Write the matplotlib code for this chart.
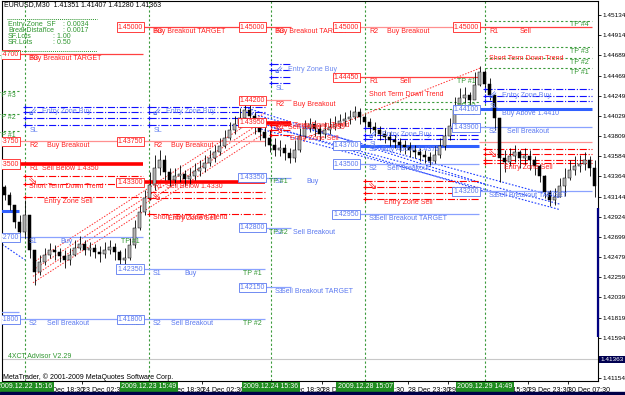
import matplotlib.pyplot as plt
import matplotlib.transforms as mtransforms
import numpy as np

# EURUSD hourly candles (each one spans two M30 bars on the chart)
first_open = 1.4325
bar_close = [1.4316, 1.4305, 1.4287, 1.4276, 1.4294, 1.4256, 1.4232, 1.4243, 1.4250, 1.4256,
             1.4254, 1.4249, 1.4245, 1.4250, 1.4258, 1.4262, 1.4256, 1.4258, 1.4254, 1.4251,
             1.4256, 1.4259, 1.4254, 1.4245, 1.4247, 1.4261, 1.4280, 1.4297, 1.4313, 1.4327,
             1.4346, 1.4354, 1.4341, 1.4332, 1.4337, 1.4339, 1.4334, 1.4337, 1.4342, 1.4346,
             1.4351, 1.4357, 1.4363, 1.4370, 1.4378, 1.4387, 1.4394, 1.4400, 1.4409, 1.4403,
             1.4392, 1.4385, 1.4378, 1.4371, 1.4365, 1.4368, 1.4362, 1.4357, 1.4365, 1.4381,
             1.4389, 1.4394, 1.4388, 1.4383, 1.4387, 1.4391, 1.4394, 1.4397, 1.4399, 1.4401,
             1.4407, 1.4401, 1.4396, 1.4391, 1.4387, 1.4383, 1.4380, 1.4376, 1.4374, 1.4371,
             1.4369, 1.4365, 1.4363, 1.4360, 1.4358, 1.4353, 1.4360, 1.4370, 1.4381, 1.4392,
             1.4409, 1.4422, 1.4426, 1.4420, 1.4436, 1.4451, 1.4438, 1.4426, 1.4400, 1.4357,
             1.4352, 1.4359, 1.4363, 1.4357, 1.4359, 1.4354, 1.4348, 1.4337, 1.4319, 1.4311,
             1.4314, 1.4326, 1.4335, 1.4343, 1.4348, 1.4350, 1.4354, 1.4346, 1.4326]
bar_high = [1.4327, 1.4319, 1.4305, 1.4294, 1.4311, 1.4294, 1.4256, 1.4250, 1.4258, 1.4264,
            1.4261, 1.4258, 1.4256, 1.4258, 1.4267, 1.4271, 1.4267, 1.4265, 1.4262, 1.4260,
            1.4265, 1.4267, 1.4264, 1.4256, 1.4258, 1.4269, 1.4289, 1.4305, 1.4322, 1.4341,
            1.4360, 1.4365, 1.4360, 1.4346, 1.4346, 1.4349, 1.4343, 1.4346, 1.4351, 1.4354,
            1.4360, 1.4365, 1.4371, 1.4378, 1.4387, 1.4396, 1.4403, 1.4411, 1.4418, 1.4416,
            1.4407, 1.4398, 1.4393, 1.4387, 1.4378, 1.4376, 1.4372, 1.4368, 1.4376, 1.4389,
            1.4398, 1.4400, 1.4398, 1.4394, 1.4396, 1.4400, 1.4403, 1.4405, 1.4407, 1.4409,
            1.4414, 1.4411, 1.4405, 1.4400, 1.4396, 1.4392, 1.4387, 1.4385, 1.4382, 1.4378,
            1.4376, 1.4374, 1.4371, 1.4368, 1.4365, 1.4363, 1.4370, 1.4378, 1.4389, 1.4400,
            1.4423, 1.4433, 1.4434, 1.4429, 1.4451, 1.4457, 1.4453, 1.4444, 1.4422, 1.4398,
            1.4365, 1.4368, 1.4371, 1.4365, 1.4368, 1.4365, 1.4359, 1.4350, 1.4338, 1.4322,
            1.4324, 1.4335, 1.4346, 1.4354, 1.4359, 1.4360, 1.4363, 1.4359, 1.4354]
bar_low = [1.4311, 1.4300, 1.4280, 1.4267, 1.4269, 1.4247, 1.4218, 1.4228, 1.4239, 1.4247,
           1.4245, 1.4243, 1.4236, 1.4239, 1.4249, 1.4256, 1.4250, 1.4249, 1.4247, 1.4243,
           1.4247, 1.4251, 1.4245, 1.4236, 1.4238, 1.4245, 1.4258, 1.4278, 1.4294, 1.4311,
           1.4322, 1.4338, 1.4332, 1.4326, 1.4327, 1.4330, 1.4326, 1.4328, 1.4332, 1.4337,
           1.4341, 1.4348, 1.4352, 1.4360, 1.4368, 1.4376, 1.4383, 1.4389, 1.4396, 1.4394,
           1.4383, 1.4376, 1.4370, 1.4363, 1.4359, 1.4359, 1.4354, 1.4351, 1.4352, 1.4363,
           1.4378, 1.4385, 1.4381, 1.4376, 1.4378, 1.4383, 1.4387, 1.4389, 1.4392, 1.4394,
           1.4398, 1.4394, 1.4389, 1.4384, 1.4381, 1.4376, 1.4373, 1.4370, 1.4368, 1.4363,
           1.4361, 1.4358, 1.4357, 1.4353, 1.4351, 1.4349, 1.4351, 1.4357, 1.4365, 1.4376,
           1.4391, 1.4411, 1.4417, 1.4409, 1.4422, 1.4435, 1.4429, 1.4420, 1.4387, 1.4330,
           1.4341, 1.4348, 1.4352, 1.4346, 1.4349, 1.4343, 1.4338, 1.4330, 1.4313, 1.4304,
           1.4305, 1.4314, 1.4315, 1.4332, 1.4338, 1.4341, 1.4343, 1.4337, 1.4314]

header = 'EURUSD,M30  1.41351 1.41407 1.41280 1.41363'
bid = 1.41363

# sessions: the first one started before the visible window
session_bar = [-40, 9.2, 58.8, 107.6, 145.2, 193.2]
session_end = [9.2, 58.8, 107.6, 118.0, 193.2, 238.4]
session_stamp = ['', '2009.12.22 15:16', '2009.12.23 15:49', '2009.12.24 15:36',
                 '2009.12.28 15:07', '2009.12.29 14:49']

# pivot levels per session: (price, kind, tag, text)
levels = [
    [(1.4299, 'sb', '', ''), (1.4188, 's', '', '')],
    [(1.4470, 'tgt', 'R3', 'Buy Breakout TARGET'), (1.4375, 'r2', 'R2', 'Buy Breakout'),
     (1.4350, 'r1', 'R1', 'Sell Below 1.4350'), (1.4270, 's', 'S1', 'Buy'),
     (1.4180, 's', 'S2', 'Sell Breakout')],
    [(1.4500, 'tgt', 'R3', 'Buy Breakout TARGET'), (1.4375, 'r2', 'R2', 'Buy Breakout'),
     (1.4330, 'r1', 'R1', 'Sell Below 1.4330'), (1.4235, 's', 'S1', 'Buy'),
     (1.4180, 's', 'S2', 'Sell Breakout')],
    [(1.4500, 'tgt', 'R3', 'Buy Breakout TARGET'), (1.4420, 'r2', 'R2', 'Buy Breakout'),
     (1.4395, 'r1', 'R1', 'Sell Below 1.4395'), (1.4335, 's', 'S1', 'Buy'),
     (1.4280, 's', 'S2', 'Sell Breakout'), (1.4215, 's', 'S3', 'Sell Breakout TARGET')],
    [(1.4500, 'r2', 'R2', 'Buy Breakout'), (1.4445, 'rs', 'R1', 'Sell'),
     (1.4370, 'sb', 'S1', 'Buy Above 1.4370'), (1.4350, 's', 'S2', 'Sell Breakout'),
     (1.4295, 's', 'S3', 'Sell Breakout TARGET')],
    [(1.4500, 'rs', 'R1', 'Sell'), (1.4410, 'sb', '', 'Buy Above 1.4410'),
     (1.4390, 's', 'S2', 'Sell Breakout'), (1.4374, 'r2', '', ''),
     (1.4320, 's', 'S3', 'Sell Breakout TARGET')],
]

# take-profit marks: labels on pivot lines, and separate dotted TP lines
tp_labels = [[], [(1.4270, 'TP #1'), (1.4180, 'TP #2')], [(1.4235, 'TP #1'), (1.4180, 'TP #2')],
             [(1.4335, 'TP #1'), (1.4280, 'TP #2')], [(1.4445, 'TP #1')], []]
tp_lines = [[(1.4470, 'TP #4'), (1.4430, 'TP #3'), (1.4405, 'TP #2'), (1.4386, 'TP #1')],
            [], [], [], [(1.4418, 'TP #2'), (1.4410, 'TP #1')],
            [(1.4507, 'TP #4'), (1.4478, 'TP #3'), (1.4466, 'TP #2'), (1.4455, 'TP #1')]]

zone_buy = [[], [1.4412, 1.4407, 1.4400, 1.4393], [1.4412, 1.4407, 1.4400, 1.4393],
            [1.4459, 1.4453, 1.4445, 1.4439], [1.4389, 1.4382, 1.4377], [1.4432, 1.4425, 1.4419]]
zone_sell = [[], [1.4337, 1.4328, 1.4314], [1.4319, 1.4313, 1.4295],
             [1.4393, 1.4387, 1.4382], [1.4331, 1.4325, 1.4318, 1.4312],
             [1.4366, 1.4361, 1.4354, 1.4351]]
# where each session's "Short Term Down Trend" note sits
down_trend_note = [None, 1.4325, 1.4291, 1.4392, 1.4426, 1.4466]

# dotted trend lines: (bar0, price0, bar1, price1)
red_trend = [(12.4, 1.4242, 105.2, 1.4406), (12.4, 1.4234, 105.2, 1.4398),
             (12.4, 1.4227, 105.2, 1.4392), (12.4, 1.4220, 105.2, 1.4384),
             (119.2, 1.4376, 191.2, 1.4455)]
blue_trend = [(97.2, 1.4412, 193.2, 1.4328), (97.2, 1.4407, 223.2, 1.4313),
              (97.2, 1.4400, 193.2, 1.4320), (97.2, 1.4393, 223.2, 1.4300),
              (107.6, 1.4390, 223.2, 1.4306), (-1, 1.4264, 9.2, 1.4245)]

time_ticks = [16, 32, 48, 64, 80, 96, 112, 128, 144, 162.4, 178.4, 194.4, 210.4, 226.4]
time_labels = ['22 Dec 18:30', '23 Dec 02:30', '23 Dec 10:30', '23 Dec 18:30', '24 Dec 02:30',
               '24 Dec 10:30', '24 Dec 18:30', '28 Dec 06:30', '28 Dec 14:30', '28 Dec 23:30',
               '29 Dec 07:30', '29 Dec 15:30', '29 Dec 23:30', '30 Dec 07:30']
price_ticks = [1.45134, 1.44914, 1.44689, 1.44469, 1.44249, 1.44029, 1.43809, 1.43584,
               1.43364, 1.43144, 1.42924, 1.42699, 1.42479, 1.42259, 1.42039, 1.41819,
               1.41594, 1.41154]

RED = '#ff2020'
BLUE = '#5a78f0'
GREEN = '#2f962f'
FS = 5.0
plt.rcParams['font.family'] = ['Liberation Sans', 'DejaVu Sans']

fig = plt.figure(figsize=(6.25, 3.95), dpi=100)
ax = fig.add_axes([2 / 625, 14 / 395, 596 / 625, 380 / 395])
ax.set_xlim(0, 238.4)
ax.set_ylim(1.41124, 1.45285)


def px(x, y):
    return x / 625, 1 - y / 395


style = {'tgt': ('#ff4040', 0.9, '-'), 'r2': ('#ff9090', 0.9, '-'), 'r1': ('#ff0000', 2.6, '-'),
         'rs': ('#ff4040', 0.9, '-'), 's': ('#8aa2ff', 0.9, '-'), 'sb': ('#3060ff', 2.2, '-')}
desc_shift = {'Buy Breakout TARGET': 1.6, 'Buy Breakout': 8.8, 'Buy': 14, 'Sell': 14,
              'Sell Breakout': 8.8, 'Sell Breakout TARGET': 4.0}

# candles
opens = [first_open] + bar_close[:-1]
xs = np.arange(len(bar_close)) * 2 + 1
ax.vlines(xs, bar_low, bar_high, color='black', lw=0.6, zorder=4)
up = np.array(bar_close) >= np.array(opens)
ax.bar(xs, np.array(bar_close) - np.array(opens), bottom=opens, width=1.0,
       color=np.where(up, '#b4b4b4', '#000000'), edgecolor='black', lw=0.35, zorder=5)

for k in range(len(session_bar)):
    sb, se = session_bar[k], session_end[k]
    x0, x1 = sb - 2.4, se - 2.4
    ax.axvline(sb, color='#3c9b3c', ls=(0, (2, 2)), lw=0.8, zorder=1)
    if session_stamp[k]:
        ax.text(sb, 1 - 387 / 395, session_stamp[k], ha='center', va='center', fontsize=FS,
                color='white', transform=mtransforms.blended_transform_factory(ax.transData, fig.transFigure),
                bbox=dict(boxstyle='square,pad=0.2', fc='#1f8c1f', ec='none'), zorder=10, clip_on=False)
    for price, kind, tag, text in levels[k]:
        col, lw, ls = style[kind]
        tcol = BLUE if kind in ('s', 'sb') else RED
        ax.hlines(price, x0, x1, color=col, lw=lw, ls=ls, zorder=3)
        if tag or text:
            ax.text(x0, price, f'{price:.5f}', ha='right', va='center', fontsize=FS, color=tcol, zorder=8,
                    clip_on=True, bbox=dict(boxstyle='square,pad=0.15', fc='white', ec=tcol, lw=0.6))
        if tag:
            ax.annotate(tag, (sb + 1.6, price), xytext=(0, -3), textcoords='offset points',
                        fontsize=FS, color=tcol, va='center', zorder=7, annotation_clip=False)
        if text:
            ax.annotate(text, (sb + desc_shift.get(text, 6.8), price), xytext=(0, -3),
                        textcoords='offset points', fontsize=FS, color=tcol, va='center', zorder=7)
    for price, lab in tp_labels[k]:
        ax.annotate(lab, (x1 - 1.2, price), xytext=(0, -3), textcoords='offset points',
                    fontsize=FS, color=GREEN, va='center', ha='right', zorder=7)
    for price, lab in tp_lines[k]:
        ax.hlines(price, sb, x1, color='#3c9b3c', lw=0.8, ls=(0, (2, 2)), zorder=2)
        ax.annotate(lab, (x1 - 1.2, price), xytext=(0, -3), textcoords='offset points',
                    fontsize=FS, color=GREEN, va='center', ha='right', zorder=7)
    if zone_buy[k]:
        zb = zone_buy[k]
        ax.hlines(zb, sb, x1, color='#1010ff', lw=0.8, ls='-.', zorder=3)
        ax.plot([sb] * len(zb), zb, '+', color='#1010ff', ms=3, mew=0.8, zorder=4)
        ax.text(sb + 3, zb[1], '\u21d9', fontsize=8, color='#4a6cf0', ha='center', va='center', zorder=7)
        ax.annotate('Entry Zone Buy', (sb + 6.8, zb[1]), fontsize=FS, color='#6a86f0', va='center', zorder=7)
        ax.annotate('SL', (sb + 2, zb[-1]), xytext=(0, -4), textcoords='offset points',
                    fontsize=FS, color='#6a86f0', va='center', zorder=7)
    if zone_sell[k]:
        zs = zone_sell[k]
        ax.hlines(zs, sb, x1, color='#ff0000', lw=0.8, ls='-.', zorder=3)
        ax.plot([sb] * len(zs), zs, '+', color='#ff0000', ms=3, mew=0.8, zorder=4)
        ax.text(sb + 3, zs[0], '\u21d8', fontsize=8, color='#ff2020', ha='center', va='top', zorder=7)
        ax.annotate('Entry Zone Sell', (sb + 7.6, zs[-1]), xytext=(0, -3), textcoords='offset points',
                    fontsize=FS, color=RED, va='center', zorder=7)
    if down_trend_note[k]:
        ax.annotate('Short Term Down Trend', (sb + 1.6, down_trend_note[k]), fontsize=FS,
                    color=RED, va='center', zorder=7)

for b0, p0, b1, p1 in red_trend:
    ax.plot([b0, b1], [p0, p1], color='#ff3030', ls=(0, (1.5, 1.5)), lw=0.7, zorder=2)
for b0, p0, b1, p1 in blue_trend:
    ax.plot([b0, b1], [p0, p1], color='#2040ff', ls=(0, (1.5, 1.5)), lw=0.8, zorder=2)

# bid line
ax.axhline(bid, color='#c8c8c8', lw=0.8, zorder=1)
ax.text(1.004, bid, f'{bid:.5f}', transform=mtransforms.blended_transform_factory(ax.transAxes, ax.transData),
        fontsize=4.6, color='white', va='center', ha='left', clip_on=False, zorder=10,
        bbox=dict(boxstyle='square,pad=0.15', fc='#000050', ec='none'))

# axes look
ax.yaxis.tick_right()
ax.set_yticks(price_ticks)
ax.set_yticklabels([f'{p:.5f}' for p in price_ticks])
ax.set_xticks(time_ticks)
ax.set_xticklabels(time_labels, ha='left')
ax.tick_params(axis='both', labelsize=FS, length=2.5, width=0.6, pad=1.5, colors='black')
ax.tick_params(axis='y', labelsize=4.6, pad=1)
for s in ax.spines.values():
    s.set_linewidth(0.8)
    s.set_color('black')

# header / expert comment texts
fig.text(*px(4, 5), header, fontsize=FS, va='center')
info = [('Entry Zone_SF', ': 0.0034', 63), ('BreakDistance', ': 0.0017', 63),
        ('SF.Lots', ': 1.00', 53), ('SR.Lots', ': 0.50', 53)]
for i, (lab, val, vx) in enumerate(info):
    fig.text(*px(8, 25 + 6 * i), lab, fontsize=FS, color=GREEN, va='center')
    fig.text(*px(vx, 25 + 6 * i), val, fontsize=FS, color=GREEN, va='center')
fig.add_artist(plt.Line2D([7 / 625, 97 / 625], [1 - 19 / 395] * 2, color=GREEN, lw=0.7, ls=(0, (1, 1))))
fig.add_artist(plt.Line2D([2 / 625, 97 / 625], [1 - 51 / 395] * 2, color=GREEN, lw=0.7, ls=(0, (1, 1))))
fig.text(*px(8, 357), '4XCT Advisor V2.29', fontsize=FS, color=GREEN, va='center')
fig.text(*px(3, 377), 'MetaTrader, \u00a9 2001-2009 MetaQuotes Software Corp.', fontsize=FS, va='center')
fig.add_artist(plt.Rectangle((0, 0), 1, 3 / 395, transform=fig.transFigure, color='#000048'))
ax.vlines(238.2, 1.4161, 1.4302, color='#000080', lw=1.6, clip_on=False, zorder=6)

fig.savefig('out.png', dpi=100)
